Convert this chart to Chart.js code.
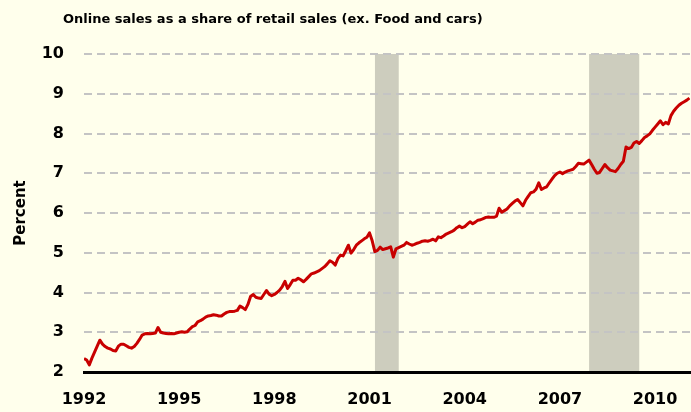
<!DOCTYPE html>
<html>
<head>
<meta charset="utf-8">
<script src="https://cdn.jsdelivr.net/npm/chart.js@4/dist/chart.umd.min.js"></script>
<style>
  html, body { margin: 0; padding: 0; background: #ffffec; }
  #wrap { width: 691px; height: 412px; position: relative; }
</style>
</head>
<body>
<div id="wrap"><canvas id="salesChart"></canvas></div>
<script>
// Online sales share of retail sales, monthly, Jan 1992 onward (percent)
const startYear = 1992;
const monthlyShare = [
    2.34, 2.30, 2.18, 2.35, 2.50, 2.65, 2.80, 2.70, 2.64, 2.60, 2.58, 2.54, // 1992
    2.53, 2.65, 2.70, 2.70, 2.66, 2.62, 2.60, 2.64, 2.72, 2.82, 2.93, 2.96, // 1993
    2.97, 2.96, 2.97, 2.98, 3.12, 3.00, 2.98, 2.97, 2.96, 2.97, 2.96, 2.98, // 1994
    3.00, 3.01, 3.00, 3.01, 3.08, 3.14, 3.17, 3.26, 3.29, 3.33, 3.38, 3.41, // 1995
    3.42, 3.44, 3.43, 3.41, 3.41, 3.46, 3.50, 3.52, 3.52, 3.53, 3.55, 3.66, // 1996
    3.62, 3.57, 3.70, 3.90, 3.95, 3.88, 3.86, 3.85, 3.95, 4.05, 3.96, 3.92, // 1997
    3.95, 4.00, 4.06, 4.15, 4.28, 4.10, 4.20, 4.31, 4.31, 4.36, 4.32, 4.27, // 1998
    4.33, 4.40, 4.47, 4.49, 4.52, 4.55, 4.60, 4.65, 4.72, 4.80, 4.76, 4.69, // 1999
    4.85, 4.94, 4.92, 5.05, 5.19, 4.99, 5.08, 5.19, 5.25, 5.30, 5.35, 5.39, // 2000
    5.50, 5.30, 5.03, 5.06, 5.14, 5.08, 5.10, 5.12, 5.15, 4.89, 5.10, 5.13, // 2001
    5.16, 5.19, 5.26, 5.22, 5.19, 5.21, 5.24, 5.26, 5.29, 5.30, 5.29, 5.31, // 2002
    5.34, 5.30, 5.40, 5.38, 5.42, 5.47, 5.50, 5.53, 5.57, 5.63, 5.67, 5.63, // 2003
    5.66, 5.72, 5.78, 5.73, 5.77, 5.82, 5.83, 5.86, 5.89, 5.90, 5.89, 5.89, // 2004
    5.92, 6.12, 6.02, 6.06, 6.10, 6.18, 6.24, 6.30, 6.34, 6.26, 6.18, 6.32, // 2005
    6.42, 6.51, 6.53, 6.60, 6.76, 6.59, 6.63, 6.66, 6.76, 6.85, 6.94, 7.00, // 2006
    7.03, 6.99, 7.03, 7.06, 7.08, 7.10, 7.17, 7.25, 7.24, 7.23, 7.28, 7.33, // 2007
    7.22, 7.10, 7.00, 7.02, 7.12, 7.22, 7.14, 7.08, 7.06, 7.04, 7.12, 7.22, // 2008
    7.30, 7.66, 7.62, 7.65, 7.76, 7.80, 7.75, 7.82, 7.90, 7.94, 7.99, 8.08, // 2009
    8.16, 8.24, 8.32, 8.22, 8.28, 8.24, 8.45, 8.56, 8.64, 8.71, 8.76, 8.80, // 2010
    8.84, 8.89                                                              // 2011
];

// Recession periods (start, end) in decimal years
const recessions = [
    [2001.17, 2001.92],
    [2007.92, 2009.50]
];

const xTickYears = [1992, 1995, 1998, 2001, 2004, 2007, 2010];
const yTicks = [2, 3, 4, 5, 6, 7, 8, 9, 10];

const titleText = 'Online sales as a share of retail sales (ex. Food and cars)';
const fontFamily = '"DejaVu Sans", Verdana, sans-serif';

// Shaded recession bands, drawn under grid and line
const recessionPlugin = {
    id: 'recessionBands',
    beforeDraw(chart) {
        const { ctx, chartArea, scales } = chart;
        ctx.save();
        ctx.fillStyle = '#cdcdbe';
        recessions.forEach(([from, to]) => {
            const x0 = scales.x.getPixelForValue(from);
            const x1 = scales.x.getPixelForValue(to);
            ctx.fillRect(x0, chartArea.top, x1 - x0, chartArea.bottom - chartArea.top);
        });
        ctx.restore();
    }
};

// Left-set title, as in the original
const titlePlugin = {
    id: 'leftTitle',
    afterDraw(chart) {
        const { ctx } = chart;
        ctx.save();
        ctx.font = 'bold 13px ' + fontFamily;
        ctx.fillStyle = '#000';
        ctx.textBaseline = 'alphabetic';
        ctx.fillText(titleText, 63, 23);
        ctx.restore();
    }
};

const ctx = document.getElementById('salesChart').getContext('2d');
new Chart(ctx, {
    type: 'line',
    data: {
        datasets: [{
            label: 'Online share',
            data: monthlyShare.map((v, i) => ({ x: startYear + i / 12, y: v })),
            borderColor: '#c80000',
            borderWidth: 3,
            borderJoinStyle: 'round',
            pointRadius: 0,
            tension: 0,
            fill: false
        }]
    },
    options: {
        responsive: true,
        maintainAspectRatio: false,
        animation: false,
        layout: { padding: { top: 54, right: 1, left: 4, bottom: 0 } },
        plugins: {
            legend: { display: false },
            title: { display: false },
            tooltip: { enabled: false }
        },
        scales: {
            x: {
                type: 'linear',
                min: 1992,
                max: 2011.1,
                afterBuildTicks: scale => { scale.ticks = xTickYears.map(v => ({ value: v })); },
                afterFit: scale => {
                    scale.height = 40;
                    scale.paddingRight = 0;
                },
                grid: { display: false, drawTicks: false },
                border: { display: true, color: '#000', width: 3 },
                ticks: {
                    color: '#000',
                    padding: 18,
                    maxRotation: 0,
                    autoSkip: false,
                    font: { family: fontFamily, size: 16, weight: 'bold' },
                    callback: v => String(v)
                }
            },
            y: {
                min: 2,
                max: 10,
                afterBuildTicks: scale => { scale.ticks = yTicks.map(v => ({ value: v })); },
                afterFit: scale => { scale.width = 80; },
                grid: {
                    color: '#c4c4c4',
                    lineWidth: 2,
                    drawTicks: false
                },
                border: { display: false, dash: [8, 5] },
                ticks: {
                    color: '#000',
                    padding: 20,
                    font: { family: fontFamily, size: 16, weight: 'bold' }
                },
                title: {
                    display: true,
                    text: 'Percent',
                    color: '#000',
                    padding: { top: 8, bottom: 0 },
                    font: { family: fontFamily, size: 15, weight: 'bold' }
                }
            }
        }
    },
    plugins: [recessionPlugin, titlePlugin]
});
</script>
</body>
</html>
